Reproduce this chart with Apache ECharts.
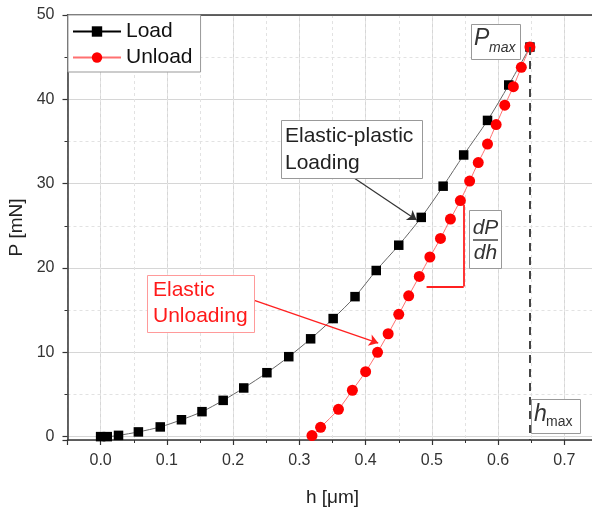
<!DOCTYPE html>
<html>
<head>
<meta charset="utf-8">
<script src="https://cdn.jsdelivr.net/npm/echarts@6/dist/echarts.min.js"></script>
<style>
html, body { margin: 0; padding: 0; background: #fff; }
#main { width: 592px; height: 510px; }
</style>
</head>
<body>
<div id="main"></div>
<script>
// loading curve (h in um, P in mN)
var loadH = [0, 0.010, 0.027, 0.057, 0.090, 0.122, 0.153, 0.185, 0.216, 0.251, 0.284,
             0.317, 0.351, 0.384, 0.416, 0.450, 0.484, 0.517, 0.548, 0.584, 0.616, 0.648];
var loadP = [0, 0, 0.15, 0.56, 1.15, 2.0, 2.96, 4.3, 5.77, 7.58, 9.48,
             11.6, 14.0, 16.6, 19.7, 22.7, 26.0, 29.7, 33.4, 37.5, 41.7, 46.2];
// unloading curve
var unloadH = [0.319, 0.332, 0.359, 0.380, 0.400, 0.418, 0.434, 0.450, 0.465, 0.481, 0.497,
               0.513, 0.528, 0.543, 0.557, 0.570, 0.584, 0.597, 0.610, 0.623, 0.635, 0.648];
var unloadP = [0.12, 1.1, 3.24, 5.5, 7.7, 10.0, 12.2, 14.5, 16.7, 19.0, 21.3,
               23.5, 25.8, 28.0, 30.3, 32.5, 34.7, 37.0, 39.3, 41.5, 43.8, 46.2];

var hRange = [-0.05, 0.75];
var pRange = [-0.4, 50];
var hStep = 0.1, pStep = 10;

// annotation anchors (data units)
var plasticArrow = [[0.382, 30.7], [0.477, 25.7]];
var elasticArrow = [[0.232, 16.15], [0.419, 11.1]];
var slopeLeg = [[0.492, 17.8], [0.548, 17.8], [0.548, 27.5]];

var FONT = 'Liberation Sans, Arial, sans-serif';

function zip(a, b) {
  return a.map(function (v, i) { return [v, b[i]]; });
}
var hMax = loadH[loadH.length - 1];
var pMax = loadP[loadP.length - 1];

var chartDom = document.getElementById('main');
var myChart = echarts.init(chartDom);
var option;

option = {
  animation: false,
  grid: { left: 67.5, right: -5.5, top: 15, bottom: 70, outerBoundsMode: 'none', containLabel: false },
  legend: {
    left: 68, top: 15,
    orient: 'vertical',
    itemWidth: 48, itemHeight: 13, itemGap: 5,
    padding: [6, 8, 4, 4],
    borderColor: '#999', borderWidth: 1, borderRadius: 0,
    backgroundColor: '#fff',
    textStyle: { fontFamily: FONT, fontSize: 21, color: '#111' },
    data: [
      { name: 'Load', itemStyle: { color: '#000' }, lineStyle: { color: '#000' } },
      { name: 'Unload', itemStyle: { color: '#ff0000' }, lineStyle: { color: '#ff7070' } }
    ]
  },
  xAxis: [{
    type: 'value',
    min: hRange[0], max: hRange[1],
    minInterval: hStep, maxInterval: hStep,
    name: 'h [\u03bcm]',
    nameLocation: 'middle', nameGap: 48,
    nameTextStyle: { fontFamily: FONT, fontSize: 19, color: '#222' },
    axisLine: { onZero: false, lineStyle: { color: '#333', width: 1.5 } },
    axisTick: { length: 5, lineStyle: { color: '#333', width: 1.2 } },
    minorTick: { show: true, splitNumber: 2, length: 3, lineStyle: { color: '#333' } },
    axisLabel: {
      margin: 13, fontFamily: FONT, fontSize: 16, color: '#333',
      showMinLabel: false, showMaxLabel: false,
      formatter: function (v) { return v.toFixed(1); }
    },
    splitLine: { show: true, lineStyle: { color: '#d6d6d6', width: 1 } }
  }, {
    // top frame + dotted minor grid
    type: 'value',
    position: 'top',
    min: hRange[0], max: hRange[1],
    interval: hStep / 2,
    axisLine: { show: true, onZero: false, lineStyle: { color: '#333', width: 1.5 } },
    axisTick: { show: false },
    axisLabel: { show: false },
    splitLine: { show: true, lineStyle: { color: '#e2e2e2', type: [3, 3], width: 1 } }
  }],
  yAxis: {
    type: 'value',
    min: pRange[0], max: pRange[1],
    minInterval: pStep, maxInterval: pStep,
    name: 'P [mN]',
    nameLocation: 'middle', nameGap: 40,
    nameTextStyle: { fontFamily: FONT, fontSize: 19, color: '#222' },
    axisLine: { onZero: false, lineStyle: { color: '#333', width: 1.5 } },
    axisTick: { length: 5, lineStyle: { color: '#333', width: 1.2 } },
    minorTick: { show: true, splitNumber: 2, length: 3, lineStyle: { color: '#333' } },
    axisLabel: {
      margin: 13, fontFamily: FONT, fontSize: 16, color: '#333',
      showMinLabel: false
    },
    splitLine: { show: true, lineStyle: { color: '#d6d6d6', width: 1 } },
    minorSplitLine: { show: true, lineStyle: { color: '#e2e2e2', type: [3, 3], width: 1 } }
  },
  series: [
    {
      name: 'Load',
      type: 'line',
      data: zip(loadH, loadP),
      smooth: 0.3,
      symbol: 'rect', symbolSize: 9.5,
      itemStyle: { color: '#000' },
      lineStyle: { color: '#666', width: 1 },
      z: 3,
      markLine: {
        silent: true, animation: false,
        symbol: ['none', 'arrow'], symbolSize: 9,
        label: { show: false },
        lineStyle: { color: '#333', width: 1.2, type: 'solid' },
        data: [
          [{ coord: plasticArrow[0] }, { coord: plasticArrow[1] }]
        ]
      }
    },
    {
      name: 'Unload',
      type: 'line',
      data: zip(unloadH, unloadP),
      smooth: 0.3,
      symbol: 'circle', symbolSize: 11,
      itemStyle: { color: '#ff0000' },
      lineStyle: { color: '#ff7070', width: 1 },
      z: 4,
      markLine: {
        silent: true, animation: false,
        symbol: ['none', 'none'],
        label: { show: false },
        data: [
          [{ coord: [hMax, pMax], lineStyle: { color: '#444', width: 2, type: [8, 6] } },
           { coord: [hMax, pRange[0]] }],
          [{ coord: elasticArrow[0], lineStyle: { color: '#ff2020', width: 1.3, type: 'solid' } },
           { coord: elasticArrow[1], symbol: 'arrow', symbolSize: 9 }],
          [{ coord: slopeLeg[0], lineStyle: { color: '#ff2020', width: 1.8, type: 'solid' } },
           { coord: slopeLeg[1] }],
          [{ coord: slopeLeg[1], lineStyle: { color: '#ff2020', width: 1.8, type: 'solid' } },
           { coord: slopeLeg[2] }]
        ]
      }
    }
  ],
  graphic: [
    // Elastic-plastic Loading
    { type: 'rect', shape: { x: 281.5, y: 120.5, width: 141, height: 58 },
      style: { fill: '#fff', stroke: '#999', lineWidth: 1 }, z: 10 },
    { type: 'text', x: 285, y: 123, z: 11,
      style: { text: 'Elastic-plastic\nLoading', font: '21px ' + FONT, lineHeight: 27, fill: '#222' } },
    // Elastic Unloading
    { type: 'rect', shape: { x: 147.5, y: 275.5, width: 107, height: 57 },
      style: { fill: '#fff', stroke: '#ff9a9a', lineWidth: 1 }, z: 10 },
    { type: 'text', x: 153, y: 277, z: 11,
      style: { text: 'Elastic\nUnloading', font: '21px ' + FONT, lineHeight: 26, fill: '#ff1a1a' } },
    // P max
    { type: 'rect', shape: { x: 471.5, y: 24.5, width: 49, height: 35 },
      style: { fill: '#fff', stroke: '#999', lineWidth: 1 }, z: 10 },
    { type: 'text', x: 474, y: 39, z: 11,
      style: { text: 'P', font: 'italic 23px ' + FONT, fill: '#333', verticalAlign: 'middle' } },
    { type: 'text', x: 489, y: 48, z: 11,
      style: { text: 'max', font: 'italic 14px ' + FONT, fill: '#333', verticalAlign: 'middle' } },
    // dP/dh
    { type: 'rect', shape: { x: 469.5, y: 210.5, width: 32, height: 58 },
      style: { fill: '#fff', stroke: '#999', lineWidth: 1 }, z: 10 },
    { type: 'text', x: 485.5, y: 228, z: 11,
      style: { text: 'dP', font: 'italic 21px ' + FONT, fill: '#333', align: 'center', verticalAlign: 'middle' } },
    { type: 'line', shape: { x1: 473, y1: 240, x2: 498, y2: 240 }, z: 11,
      style: { stroke: '#444', lineWidth: 1.5 } },
    { type: 'text', x: 485.5, y: 253, z: 11,
      style: { text: 'dh', font: 'italic 21px ' + FONT, fill: '#333', align: 'center', verticalAlign: 'middle' } },
    // h max
    { type: 'rect', shape: { x: 531.5, y: 399.5, width: 49, height: 34 },
      style: { fill: '#fff', stroke: '#999', lineWidth: 1 }, z: 10 },
    { type: 'text', x: 534, y: 415, z: 11,
      style: { text: 'h', font: 'italic 23px ' + FONT, fill: '#333', verticalAlign: 'middle' } },
    { type: 'text', x: 546, y: 422, z: 11,
      style: { text: 'max', font: '14px ' + FONT, fill: '#333', verticalAlign: 'middle' } }
  ]
};

option && myChart.setOption(option);
</script>
</body>
</html>
